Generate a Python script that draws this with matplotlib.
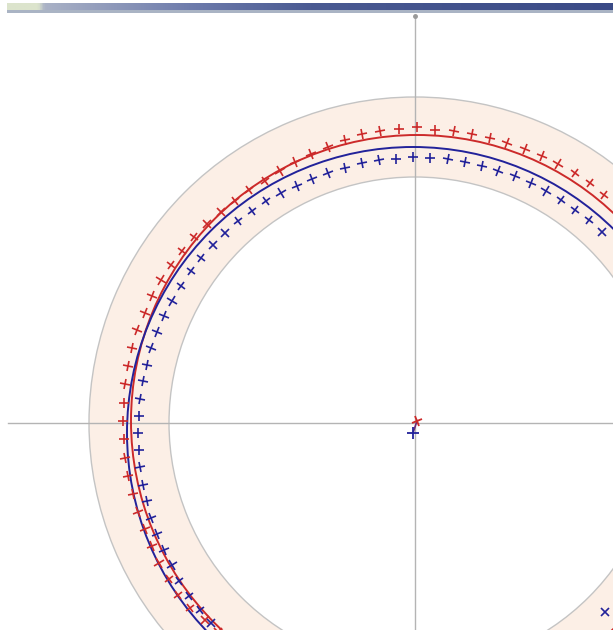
import numpy as np
import matplotlib.pyplot as plt
from matplotlib.patches import Wedge, Circle
from matplotlib.markers import MarkerStyle
from matplotlib.transforms import Affine2D
from matplotlib.colors import LinearSegmentedColormap

# tolerance band (centred on the nominal centre)
band_inner = 246
band_outer = 326

# fitted circles: centre (x, y) and radius
red_center = (2, 2)
red_radius = 286
blue_center = (-2, -10)
blue_radius = 286

# measured points: angle (deg) and radius from their own fitted centre
red_angles = np.arange(46.8, 227.0, 3.6)
red_radii = [293, 293.5, 294, 294, 293.5, 292.5, 293, 292, 292, 292,
             292, 291.5, 294, 293, 292.5, 292, 290, 288, 287, 286,
             285, 284, 285, 286, 287, 288, 289, 290, 291, 292,
             293, 293, 294, 294, 294, 294, 294, 294, 294, 294,
             294, 293, 293, 293, 293, 294, 294, 296, 294, 291, 290]

blue_angles = list(np.arange(46.8, 227.0, 3.6)) + [-43.0]
blue_radii = [276, 276, 276, 276, 276, 276, 276, 276, 276, 276,
              276, 276, 276, 275, 275, 274.5, 274, 273.5, 273.5, 273.5,
              274, 274.5, 274.5, 275, 275, 275, 275, 275, 275, 275,
              275, 275, 275, 275, 275, 275, 275, 275, 275, 275,
              275, 275, 275, 275, 275, 275, 277, 277, 277, 277, 277, 263]

RED = '#cc2a2a'
BLUE = '#22229a'
GREY = '#b4b4b4'

fig = plt.figure(figsize=(6.13, 6.30), dpi=100)
ax = fig.add_axes([0, 0, 1, 1])
ax.set_xlim(-415, 198)
ax.set_ylim(-207, 423)
ax.set_aspect('equal')
ax.axis('off')

# band
ax.add_patch(Wedge((0, 0), band_outer, 0, 360, width=band_outer - band_inner,
                   facecolor='#fcefe6', edgecolor='#c4c4c4', lw=1.0, zorder=1))

# axis cross
ax.plot([-407, 198], [0, 0], color=GREY, lw=1.0, zorder=2)
ax.plot([0, 0], [-207, 407], color=GREY, lw=1.0, zorder=2)
ax.plot([0], [407], marker='o', ms=2.5, color='#999999', zorder=2)

# fitted circles
ax.add_patch(Circle(red_center, red_radius, fill=False, edgecolor=RED, lw=1.4, zorder=3))
ax.add_patch(Circle(blue_center, blue_radius, fill=False, edgecolor=BLUE, lw=1.4, zorder=3))


def cross(angle):
    return MarkerStyle('+', transform=Affine2D().rotate_deg(angle))


# measured points, crosses aligned with the radial direction
def draw_points(center, angles, radii, color):
    for a, r in zip(angles, radii):
        t = np.deg2rad(a)
        x = center[0] + r * np.cos(t)
        y = center[1] + r * np.sin(t)
        ax.plot([x], [y], marker=cross(a), ms=7.5, mew=1.2,
                color=color, linestyle='none', zorder=4)


draw_points(red_center, red_angles, red_radii, RED)
draw_points(blue_center, blue_angles, blue_radii, BLUE)

# centres
ax.plot([blue_center[0], red_center[0]], [blue_center[1], red_center[1]],
        color='#6a2a7a', lw=1.2, zorder=5)
ax.plot([red_center[0]], [red_center[1]], marker=cross(20), ms=7, mew=1.3,
        color=RED, zorder=6)
ax.plot([blue_center[0]], [blue_center[1]], marker='+', ms=8, mew=1.3,
        color=BLUE, zorder=6)

# window title strip at the top
bar = fig.add_axes([7 / 613, 1 - 10 / 630, 606 / 613, 7 / 630])
grad = np.linspace(0, 1, 256)[None, :]
cmap = LinearSegmentedColormap.from_list(
    'bar', [(0, '#dce4cc'), (0.05, '#dce4cc'), (0.06, '#aab2c6'),
            (0.3, '#6e7cac'), (0.5, '#4a5a92'), (1, '#3a4a86')])
bar.imshow(grad, aspect='auto', cmap=cmap)
bar.axis('off')
line = fig.add_axes([7 / 613, 1 - 13 / 630, 606 / 613, 3 / 630])
line.set_facecolor('#aab4c4')
line.set_xticks([])
line.set_yticks([])
for s in line.spines.values():
    s.set_visible(False)

fig.savefig('out.png', dpi=100)
